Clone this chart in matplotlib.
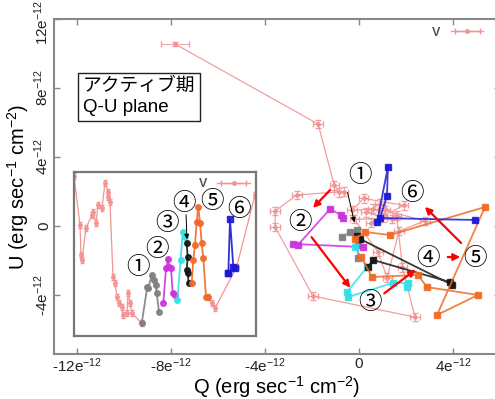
import matplotlib
matplotlib.use("Agg")
import matplotlib.pyplot as plt
from matplotlib.ticker import FixedLocator, FuncFormatter
from matplotlib.lines import Line2D
from matplotlib.legend_handler import HandlerLine2D, HandlerTuple
from matplotlib.transforms import ScaledTranslation

plt.rcParams['font.family'] = ['Liberation Sans', 'Noto Sans CJK JP', 'DejaVu Sans']
plt.rcParams['mathtext.fontset'] = 'custom'
plt.rcParams['mathtext.rm'] = 'Liberation Sans'
plt.rcParams['mathtext.it'] = 'Liberation Sans:italic'
plt.rcParams['mathtext.bf'] = 'Liberation Sans:bold'
plt.rcParams['axes.unicode_minus'] = False

# ---------------- main Q-U plane data (units of 1e-12 erg/s/cm2) ----------------
v_q = [-7.83, -1.74, -1.05, -0.85, -0.65, -2.64, -3.57, -3.57, -1.96, 2.38, 1.85, 1.6, 0.9,
       0.3, 1.0, 0.5, 1.9, 0.2, -0.3, 0.6, 1.4, -0.2, 0.8, 1.2, 1.7, 2.8, 1.1]
v_u = [10.55, 5.91, 2.35, 1.95, 2.0, 1.80, 0.87, -0.06, -4.06, -5.28, -2.4, 0.6, 1.3,
       0.8, 0.5, 0.2, 1.2, 1.6, 0.9, 1.0, 0.4, 0.4, -1.5, -3.0, -0.3, 0.3, 0.9]
v_qerr = [0.6] + [0.2] * (len(v_q) - 1)
v_uerr = [0.1] + [0.25] * (len(v_q) - 1)

s1_q = [-0.72, -0.38, -0.09, -0.04, -0.04]
s1_u = [-0.64, -0.35, -0.23, -1.10, -1.86]
s2_q = [0.17, -2.81, -2.60, -1.23, -0.77, -0.68]
s2_u = [-1.22, -1.04, -1.10, 0.99, 0.64, 0.46]
s3_q = [-0.17, 0.34, -0.51, -0.47, 1.45, 2.09, 2.04]
s3_u = [-1.22, -2.38, -3.83, -4.12, -3.30, -3.30, -3.54]
s4_q = [0.38, 0.60, 3.87, 3.95, 0.04, -0.10]
s4_u = [-2.38, -1.97, -3.25, -3.40, -0.75, -0.60]
s5_q = [-0.17, 0.26, 1.32, 5.36, 3.32, 5.06, 2.89, 2.51, 0.55, 0.10]
s5_u = [-0.75, -0.35, -0.52, 1.10, -5.16, -4.00, -3.54, -2.84, -2.96, -1.80]
s6_q = [0.77, 1.23, 1.19, 0.89, 4.94]
s6_u = [0.23, 3.42, 1.74, 0.46, 0.35]

# ---------------- inset light curve (arbitrary units) ----------------
l1_t = [0, 6, 7, 8, 12, 18, 19, 22, 24, 28, 31, 34, 34, 36, 39, 41, 43, 45, 48, 49, 53, 54, 56, 58, 67.7]
l1_v = [160, 111, 81, 76, 108, 121, 124, 113, 131, 128, 153, 144, 139, 134, 59, 53, 39, 33, 29, 21, 23, 43, 33, 23, 12.7]
l2_t = [134.3, 137.7, 141, 162.7, 181]
l2_v = [39.3, 32.7, 27.7, 69.3, 141]
i1_t = [67.7, 73.3, 74.3, 77.7, 80.3, 82, 82.7, 85]
i1_v = [12.7, 49.3, 47.7, 61, 56, 51, 42.7, 24.3]
i2_t = [89.3, 92, 94.3, 95.3, 97, 98.7, 101]
i2_v = [32.7, 67.7, 76.7, 69.3, 67.7, 42.7, 41]
i3_t = [103.3, 106.7, 108.7, 111]
i3_v = [36, 76, 104.3, 99.3]
i4_t = [112.7, 113.7, 112.7, 113.7, 114.7]
i4_v = [92.7, 79.3, 66, 62.7, 52.7]
i5_t = [117.7, 119.3, 121, 122.7, 124.3, 126, 127.7, 129.3, 132, 134.3]
i5_v = [52.7, 76, 91, 114.3, 129.3, 112.7, 92.7, 77.7, 39.3, 39.3]
i6_t = [154.3, 156, 159.3, 161, 154.3]
i6_v = [62.7, 116.7, 69.3, 67.7, 62.7]

seg_colors = ['#7f7f7f', '#cc33dd', '#33e0e8', '#151515', '#f26a25', '#1a1ad6']
v_color = '#f29494'
labels_num = ['①', '②', '③', '④', '⑤', '⑥']

x_ticks = [-12, -8, -4, 0, 4]
y_ticks = [-4, 0, 4, 8, 12]

W, H = 495, 399
fig = plt.figure(figsize=(W / 100, H / 100), dpi=100)

ax = fig.add_axes([54 / W, 1 - 354 / H, 446 / W, 335 / H])
ax.set_xlim(-12.98, 6.0)
ax.set_ylim(-7.42, 12.0)

ax.errorbar(v_q, v_u, xerr=v_qerr, yerr=v_uerr, color=v_color, lw=0.9, marker='o', ms=2.5,
            capsize=2, elinewidth=0.7, alpha=0.9, zorder=2)
segs = [(s1_q, s1_u), (s2_q, s2_u), (s3_q, s3_u), (s4_q, s4_u), (s5_q, s5_u), (s6_q, s6_u)]
for (q, u), c in zip(segs, seg_colors):
    ax.errorbar(q, u, xerr=0.08, yerr=0.12, color=c, lw=1.3, marker='s', ms=3.8, capsize=1.5,
                elinewidth=0.8, alpha=0.85, zorder=3)

fmt = FuncFormatter(lambda v, p: '0' if v == 0 else f'{int(v)}e$^{{-12}}$')
ax.xaxis.set_major_locator(FixedLocator(x_ticks))
ax.yaxis.set_major_locator(FixedLocator(y_ticks))
ax.xaxis.set_major_formatter(fmt)
ax.yaxis.set_major_formatter(fmt)
ax.tick_params(direction='in', top=True, right=True, length=4, width=1, color='#888888',
               labelsize=11, labelcolor='#222222', pad=2)
for lab in ax.get_yticklabels():
    lab.set_rotation(90)
    lab.set_va('center')
top_tick = ax.yaxis.get_major_ticks()[-1]
top_tick.label1.set_transform(top_tick.label1.get_transform()
                              + ScaledTranslation(0, -3 / 100, fig.dpi_scale_trans))
for sp in ax.spines.values():
    sp.set_color('#888888')
    sp.set_linewidth(1.5)

ax.set_xlabel('Q (erg sec$^{-1}$ cm$^{-2}$)', fontsize=14.5, labelpad=-1)
ax.set_ylabel('U (erg sec$^{-1}$ cm$^{-2}$)', fontsize=14.5, labelpad=1)


def v_handles():
    caps = Line2D([0], [0], color=v_color, lw=1.0, marker='|', ms=5)
    dot = Line2D([0], [0], color=v_color, lw=1.0, marker='o', ms=2.5)
    hmap = {caps: HandlerLine2D(numpoints=2), dot: HandlerLine2D(numpoints=1)}
    return (caps, dot), hmap


h, hmap = v_handles()
hmap[tuple] = HandlerTuple(ndivide=1, pad=0)
leg = ax.legend([h], ['V'], handler_map=hmap, loc='upper right', bbox_to_anchor=(492 / W, 1 - 18 / H),
                bbox_transform=fig.transFigure, frameon=False, markerfirst=False, fontsize=9,
                handlelength=2.6, borderpad=0.2)
for t in leg.get_texts():
    t.set_color('#555555')
    t.set_fontweight('bold')

ax.text(-11.75, 8.6, 'アクティブ期\nQ-U plane', fontsize=13.5, va='top', ha='left', linespacing=1.3,
        bbox=dict(boxstyle='square,pad=0.25', fc='white', ec='#222222', lw=1.0), zorder=5)

cfam = ['Noto Sans CJK JP', 'DejaVu Sans']
main_lab_pos = [(0.04, 2.90), (-2.51, 0.23), (0.47, -4.41), (2.94, -1.86), (4.94, -1.91), (2.26, 1.91)]
for s, (x, y) in zip(labels_num, main_lab_pos):
    ax.text(x, y, s, fontsize=17, family=cfam, ha='center', va='center', zorder=6)

ax.annotate('', xy=(-0.17, 0.06), xytext=(-0.51, 2.09),
            arrowprops=dict(arrowstyle='-|>', color='black', lw=0.7, mutation_scale=7), zorder=6)
red_arrows = [((-1.15, 2.2), (-2.04, 0.93)), ((-2.09, -0.52), (-0.30, -3.71)),
              ((0.98, -4.0), (2.51, -2.43)), ((3.66, -1.80), (4.43, -1.80)),
              ((4.43, -1.10), (2.72, 1.22))]
for (x0, y0), (x1, y1) in red_arrows:
    ax.annotate('', xy=(x1, y1), xytext=(x0, y0),
                arrowprops=dict(arrowstyle='-|>', color='#ff0000', lw=1.6, mutation_scale=10), zorder=6)

# ---------------- inset ----------------
ins = fig.add_axes([74 / W, 1 - 336 / H, 182 / W, 164 / H])
ins.set_xlim(0, 182)
ins.set_ylim(0, 164)
ins.set_xticks([])
ins.set_yticks([])
for sp in ins.spines.values():
    sp.set_color('#777777')
    sp.set_linewidth(1.6)

ins.errorbar(l1_t, l1_v, yerr=3, color=v_color, lw=0.9, marker='o', ms=2.5, capsize=1.5,
             elinewidth=0.8, zorder=2)
ins.errorbar(l2_t, l2_v, yerr=3, color=v_color, lw=0.9, marker='o', ms=2.5, capsize=1.5,
             elinewidth=0.8, zorder=2)
isegs = [(i1_t, i1_v), (i2_t, i2_v), (i3_t, i3_v), (i4_t, i4_v), (i5_t, i5_v), (i6_t, i6_v)]
for (t, v), c in zip(isegs, seg_colors):
    ins.plot(t, v, color=c, lw=1.3, marker='o' if c != '#1a1ad6' else 's', ms=4, alpha=0.9, zorder=3)

h2, hmap2 = v_handles()
hmap2[tuple] = HandlerTuple(ndivide=1, pad=0)
ileg = ins.legend([h2], ['V'], handler_map=hmap2, loc='upper right', frameon=False, markerfirst=False,
                  fontsize=9, handlelength=2.6, borderpad=0.3, borderaxespad=0.2)
for t in ileg.get_texts():
    t.set_color('#555555')
    t.set_fontweight('bold')

ins_lab_pos = [(64, 68), (83, 86), (93, 113), (110, 133), (138, 135), (165, 126)]
for s, (x, y) in zip(labels_num, ins_lab_pos):
    ins.text(x, y, s, fontsize=17, family=cfam, ha='center', va='center', zorder=6)
ins.annotate('', xy=(113, 94), xytext=(112, 124),
             arrowprops=dict(arrowstyle='-|>', color='black', lw=0.7, mutation_scale=7), zorder=6)

fig.savefig('out.png', dpi=100)
